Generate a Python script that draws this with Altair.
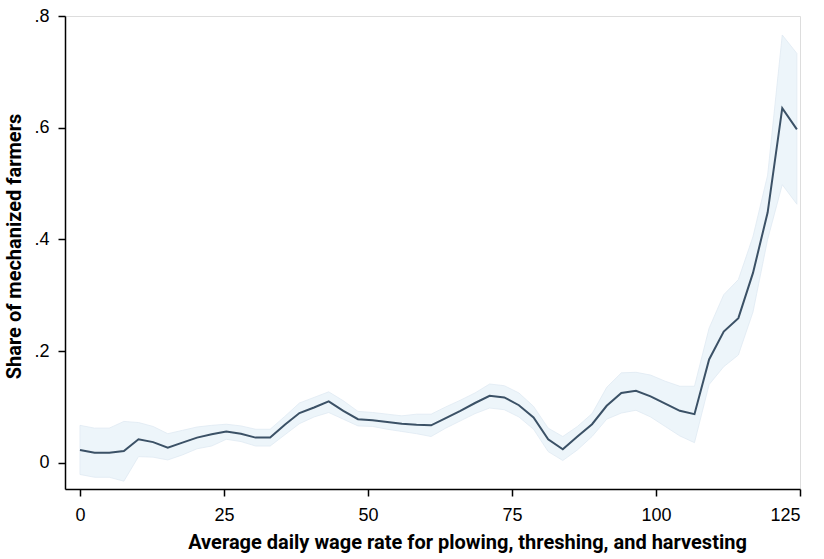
import altair as alt
import pandas as pd

wage = [0.0, 2.54, 5.08, 7.62, 10.16, 12.7, 15.24, 17.78, 20.32, 22.86,
        25.4, 27.94, 30.48, 33.02, 35.56, 38.1, 40.64, 43.18, 45.72, 48.26,
        50.8, 53.34, 55.88, 58.42, 60.96, 63.5, 66.04, 68.58, 71.12, 73.66,
        76.2, 78.74, 81.28, 83.82, 86.36, 88.9, 91.44, 93.98, 96.52, 99.06,
        101.6, 104.14, 106.68, 109.22, 111.76, 114.3, 116.84, 119.38, 121.92, 124.46]

share = [0.023, 0.018, 0.018, 0.021, 0.042, 0.037, 0.027, 0.036, 0.045, 0.051,
         0.056, 0.052, 0.045, 0.045, 0.068, 0.089, 0.099, 0.110, 0.093, 0.078,
         0.076, 0.073, 0.070, 0.068, 0.067, 0.080, 0.093, 0.107, 0.120, 0.117,
         0.103, 0.081, 0.042, 0.024, 0.047, 0.069, 0.102, 0.125, 0.129, 0.119,
         0.106, 0.093, 0.087, 0.185, 0.235, 0.259, 0.340, 0.448, 0.635, 0.597]

upper = [0.067, 0.062, 0.062, 0.074, 0.072, 0.065, 0.052, 0.058, 0.064, 0.067,
         0.069, 0.066, 0.060, 0.060, 0.083, 0.107, 0.117, 0.127, 0.111, 0.092,
         0.090, 0.087, 0.084, 0.087, 0.087, 0.100, 0.112, 0.125, 0.141, 0.138,
         0.125, 0.101, 0.062, 0.047, 0.065, 0.088, 0.135, 0.161, 0.162, 0.157,
         0.146, 0.137, 0.137, 0.241, 0.301, 0.328, 0.405, 0.515, 0.766, 0.733]

lower = [-0.021, -0.026, -0.026, -0.033, 0.011, 0.010, 0.005, 0.014, 0.025, 0.030,
         0.042, 0.038, 0.030, 0.030, 0.050, 0.070, 0.082, 0.090, 0.078, 0.066,
         0.065, 0.060, 0.056, 0.052, 0.047, 0.062, 0.075, 0.088, 0.098, 0.095,
         0.082, 0.060, 0.020, 0.004, 0.023, 0.047, 0.078, 0.089, 0.094, 0.082,
         0.065, 0.048, 0.036, 0.140, 0.172, 0.193, 0.270, 0.400, 0.498, 0.463]

df = pd.DataFrame({"wage": wage, "share": share, "upper": upper, "lower": lower})

title_font = "Roboto, sans-serif"
label_font = "Liberation Sans, Arial, sans-serif"

xscale = alt.Scale(domain=[-2.6, 125], nice=False, zero=False)
yscale = alt.Scale(domain=[-0.047, 0.8], nice=False, zero=False)

xaxis = alt.Axis(values=[0, 25, 50, 75, 100, 125], title="Average daily wage rate for plowing, threshing, and harvesting",
                 grid=False, tickSize=7, labelFontSize=18, labelFont=label_font, labelColor="#000000",
                 labelPadding=10, titleFont=title_font, titleFontSize=20, titleFontWeight="bold",
                 titleColor="#000000", titlePadding=8, titleX=402, titleAnchor="start", titleAlign="center",
                 domainColor="#000000", tickColor="#000000", domainWidth=1.5, tickWidth=1.5)
yaxis = alt.Axis(values=[0, 0.2, 0.4, 0.6, 0.8], title="Share of mechanized farmers",
                 labelExpr="datum.value == 0 ? '0' : '.' + format(datum.value * 10, 'd')",
                 grid=False, tickSize=7, labelFontSize=18, labelFont=label_font, labelColor="#000000",
                 labelPadding=9, titleFont=title_font, titleFontSize=20, titleFontWeight="bold",
                 titleColor="#000000", titlePadding=9, titleY=230,
                 domainColor="#000000", tickColor="#000000", domainWidth=1.5, tickWidth=1.5)

band = alt.Chart(df).mark_area(color="#edf5fa", stroke="#dfeaf2", strokeWidth=0.8, opacity=1).encode(
    x=alt.X("wage:Q", scale=xscale, axis=xaxis),
    y=alt.Y("lower:Q", scale=yscale, axis=yaxis),
    y2="upper:Q",
)

line = alt.Chart(df).mark_line(color="#3b5166", strokeWidth=2).encode(
    x=alt.X("wage:Q", scale=xscale),
    y=alt.Y("share:Q", scale=yscale),
)

chart = (band + line).properties(
    width=735, height=473,
    autosize=alt.AutoSizeParams(type="none"),
    padding={"left": 65, "top": 16, "right": 24, "bottom": 70},
).configure_view(stroke=None).configure(background="white")

chart.save("out.html", embed_options={"renderer": "svg", "actions": False})
